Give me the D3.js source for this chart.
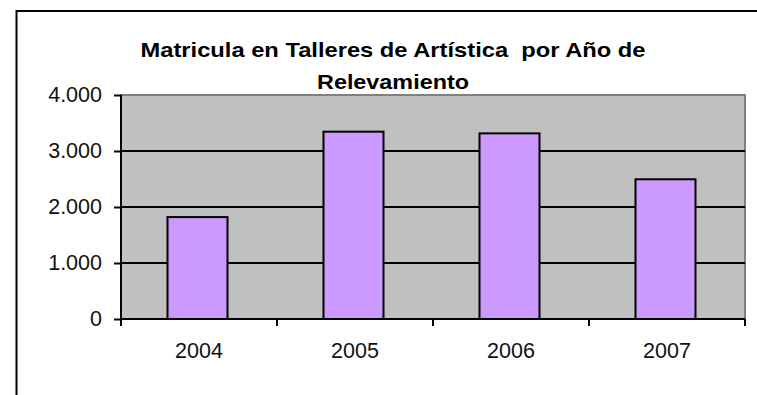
<!DOCTYPE html>
<html>
<head>
<meta charset="utf-8">
<script src="https://cdn.jsdelivr.net/npm/d3@7"></script>
<style>
  html, body { margin: 0; padding: 0; background: #fff; }
  svg { display: block; font-family: "Liberation Sans", Arial, sans-serif; }
</style>
</head>
<body>
<svg id="chart" width="757" height="395"></svg>
<script>
// Enrolment in art workshops by survey year
const categories = ["2004", "2005", "2006", "2007"];
const values = [1820, 3345, 3315, 2495];
const yTicks = [0, 1000, 2000, 3000, 4000];
const titleLines = ["Matricula en Talleres de Artística  por Año de", "Relevamiento"];
const titleWidths = [505, 152];

const svg = d3.select("#chart");
const W = 757, H = 395;

// Chart frame (its right and bottom edges run past the page)
svg.append("rect")
  .attr("x", 16.5).attr("y", 11)
  .attr("width", W + 20).attr("height", H + 20)
  .attr("fill", "#fff").attr("stroke", "#000").attr("stroke-width", 2);

const plot = { left: 121, right: 745, top: 95, bottom: 319 };

const x = d3.scaleBand()
  .domain(categories)
  .range([plot.left, plot.right])
  .paddingInner(1 - 60 / 156)
  .paddingOuter((1 - 60 / 156) / 2);

const y = d3.scaleLinear()
  .domain([0, 4000])
  .range([plot.bottom, plot.top]);

const locale = d3.formatLocale({ decimal: ",", thousands: ".", grouping: [3], currency: ["", ""] });
const fmt = locale.format(",d");

// Plot area
svg.append("rect")
  .attr("x", plot.left).attr("y", plot.top)
  .attr("width", plot.right - plot.left).attr("height", plot.bottom - plot.top)
  .attr("fill", "#c0c0c0").attr("stroke", "#808080").attr("stroke-width", 2);

// Horizontal gridlines
svg.append("g")
  .selectAll("line")
  .data(yTicks.filter(d => d > 0 && d < 4000))
  .join("line")
  .attr("x1", plot.left).attr("x2", plot.right)
  .attr("y1", d => y(d)).attr("y2", d => y(d))
  .attr("stroke", "#000").attr("stroke-width", 2);

// Bars
svg.append("g")
  .selectAll("rect")
  .data(values)
  .join("rect")
  .attr("x", (d, i) => x(categories[i]) - 1.5)
  .attr("y", d => y(d))
  .attr("width", x.bandwidth())
  .attr("height", d => y(0) - y(d))
  .attr("fill", "#cc99ff")
  .attr("stroke", "#000").attr("stroke-width", 2);

// Y axis
const yAxis = svg.append("g")
  .attr("transform", `translate(${plot.left},0)`)
  .call(d3.axisLeft(y).tickValues(yTicks).tickFormat(fmt).tickSize(7).tickPadding(12));
yAxis.select(".domain").attr("stroke", "#000").attr("stroke-width", 2)
  .attr("d", `M0,${plot.top}V${plot.bottom + 7}`);
yAxis.selectAll(".tick line").attr("stroke", "#000").attr("stroke-width", 2);
yAxis.selectAll(".tick text")
  .attr("font-size", 21.5).attr("fill", "#111")
  .attr("font-family", "'Liberation Sans', Arial, sans-serif");

// X axis: ticks sit on category boundaries
const boundaries = d3.range(categories.length + 1).map(i => plot.left + i * x.step());
const xg = svg.append("g");
xg.append("line")
  .attr("x1", plot.left).attr("x2", plot.right)
  .attr("y1", plot.bottom).attr("y2", plot.bottom)
  .attr("stroke", "#000").attr("stroke-width", 2);
xg.selectAll("line.tick")
  .data(boundaries)
  .join("line")
  .attr("class", "tick")
  .attr("x1", d => d).attr("x2", d => d)
  .attr("y1", plot.bottom).attr("y2", plot.bottom + 7)
  .attr("stroke", "#000").attr("stroke-width", 2);
xg.selectAll("text")
  .data(categories)
  .join("text")
  .attr("x", d => x(d) + x.bandwidth() / 2)
  .attr("y", 358)
  .attr("text-anchor", "middle")
  .attr("font-size", 21.5).attr("fill", "#111")
  .text(d => d);

// Title
svg.append("g")
  .selectAll("text")
  .data(titleLines)
  .join("text")
  .attr("x", 393)
  .attr("y", (d, i) => 57 + i * 31.5)
  .attr("text-anchor", "middle")
  .attr("xml:space", "preserve")
  .style("white-space", "pre")
  .attr("textLength", (d, i) => titleWidths[i])
  .attr("lengthAdjust", "spacingAndGlyphs")
  .attr("font-size", 21).attr("font-weight", "bold").attr("fill", "#000")
  .text(d => d);
</script>
</body>
</html>
